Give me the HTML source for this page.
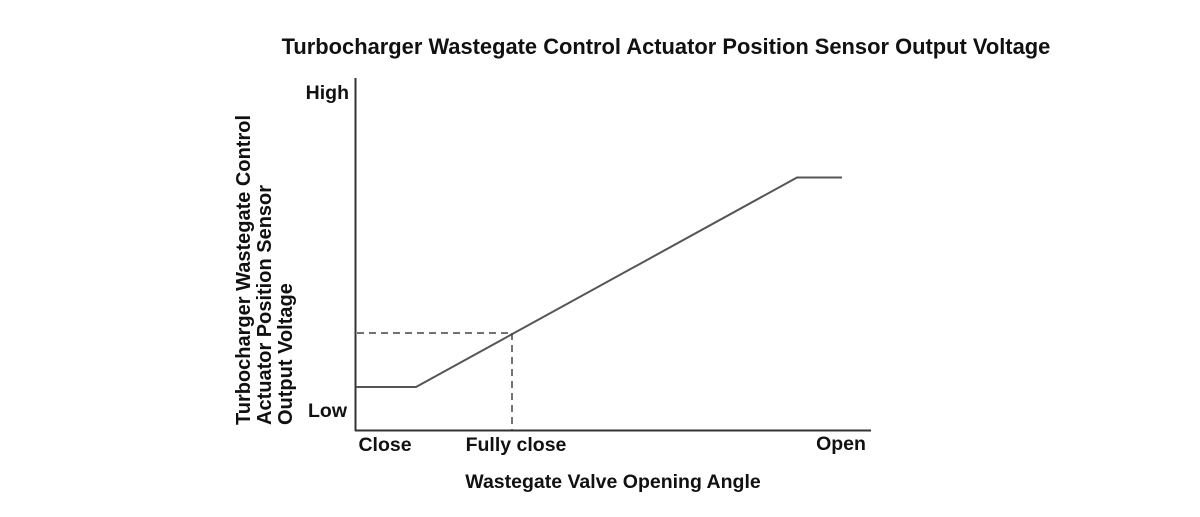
<!DOCTYPE html>
<html><head><meta charset="utf-8"><style>
html,body{margin:0;padding:0;background:#fff;width:1200px;height:517px;overflow:hidden}
text{font-family:"Liberation Sans",Arial,sans-serif;font-weight:bold;fill:#111}
</style></head><body>
<svg width="1200" height="517" xmlns="http://www.w3.org/2000/svg">
<text x="666" y="54" font-size="21.9" text-anchor="middle">Turbocharger Wastegate Control Actuator Position Sensor Output Voltage</text>
<line x1="355.5" y1="78" x2="355.5" y2="431" stroke="#333" stroke-width="2"/>
<line x1="355" y1="430.5" x2="871" y2="430.5" stroke="#333" stroke-width="2"/>
<polyline points="356,387 416,387 797,177.5 842,177.5" fill="none" stroke="#555" stroke-width="2"/>
<line x1="357" y1="333" x2="512" y2="333" stroke="#444" stroke-width="1.5" stroke-dasharray="7,5"/>
<line x1="512" y1="333" x2="512" y2="430" stroke="#444" stroke-width="1.5" stroke-dasharray="7,5"/>
<text x="349" y="99" font-size="19.5" text-anchor="end">High</text>
<text x="347" y="417" font-size="19.5" text-anchor="end">Low</text>
<text x="385" y="451" font-size="19.5" text-anchor="middle">Close</text>
<text x="516" y="451" font-size="19.5" text-anchor="middle">Fully close</text>
<text x="841" y="450" font-size="19.5" text-anchor="middle">Open</text>
<text x="613" y="488" font-size="19.5" text-anchor="middle">Wastegate Valve Opening Angle</text>
<g transform="rotate(-90)">
<text x="-425" y="250" font-size="20">Turbocharger Wastegate Control</text>
<text x="-425" y="271" font-size="20">Actuator Position Sensor</text>
<text x="-425" y="292" font-size="20">Output Voltage</text>
</g>
</svg>
</body></html>
